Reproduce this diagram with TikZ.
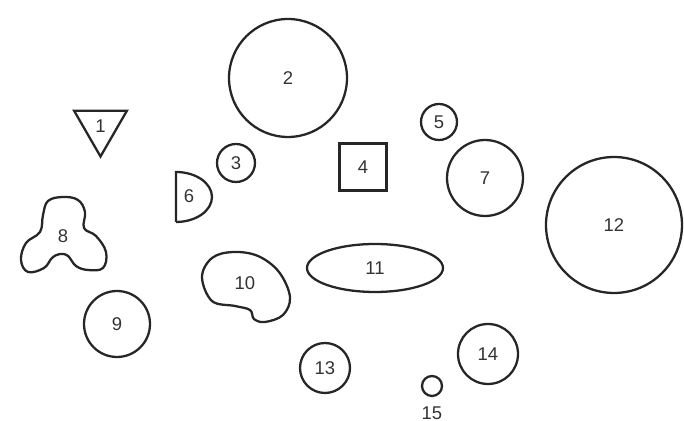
\documentclass[tikz,border=0pt]{standalone}
\usepackage{fontspec}
\setsansfont{Liberation Sans}
\usepackage{tikz}
\usetikzlibrary{shapes.geometric, positioning}

\begin{document}
\begin{tikzpicture}[
  x=0.02cm, y=-0.02cm,
  blob/.style={circle, draw=black!85, line width=1.3pt, inner sep=0pt, outer sep=0pt,
               font=\sffamily\fontsize{10.5}{12}\selectfont, text=black!80},
  outline/.style={draw=black!85, line width=1.3pt},
  num/.style={font=\sffamily\fontsize{10.5}{12}\selectfont, text=black!80, inner sep=0pt},
]
  \useasboundingbox (0,0) rectangle (684,421);

  % Triangle
  \node[blob, regular polygon, regular polygon sides=3, shape border rotate=180,
        minimum size=1.22cm] (tri) at (100.5,126) {1};
  % Circles
  \node[blob, minimum size=2.36cm] (c2)  at (288,78)  {2};
  \node[blob, minimum size=0.76cm] (c3)  at (236,163) {3};
  \node[blob, minimum size=0.72cm] (c5)  at (439,122) {5};
  \node[blob, minimum size=1.52cm] (c7)  at (485,178) {7};
  \node[blob, minimum size=1.32cm] (c9)  at (117,324) {9};
  \node[blob, minimum size=2.72cm] (c12) at (614,225) {12};
  \node[blob, minimum size=1.0cm]  (c13) at (325,368) {13};
  \node[blob, minimum size=1.2cm]  (c14) at (488,354) {14};
  \node[blob, minimum size=0.4cm]  (c15) at (432,386) {};
  \node[num, below=0.2cm of c15]   (l15) {15};
  % Square
  \node[blob, rectangle, line width=1.8pt, minimum size=0.94cm] (sq) at (363,167) {4};
  % Ellipse
  \node[blob, ellipse, minimum width=2.72cm, minimum height=0.96cm] (ell) at (375,268) {11};

  % Half disk
  \draw[outline] (176,222) -- (176,172) arc[start angle=90, end angle=-90,
        x radius=0.72cm, y radius=0.5cm] -- cycle;
  \node[num] (l6) at (189,196) {6};

  % Three lobes
  \draw[outline] plot[smooth cycle, tension=0.65] coordinates {
    (63,197) (78,200) (85,212) (84,228) (96,236) (106,252) (103,268) (88,270)
    (76,266) (68,256) (60,254) (52,258) (44,268) (28,272) (21,260) (26,243)
    (40,232) (43,215) (48,201)};
  \node[num] (l8) at (63,236) {8};

  % Kidney
  \draw[outline] plot[smooth cycle, tension=0.6] coordinates {
    (202,277) (212,258) (233,252) (258,256) (279,272) (290,297) (283,315)
    (265,322) (254,319) (250,310) (235,306) (212,301)};
  \node[num] (l10) at (245,283) {10};
\end{tikzpicture}
\end{document}
